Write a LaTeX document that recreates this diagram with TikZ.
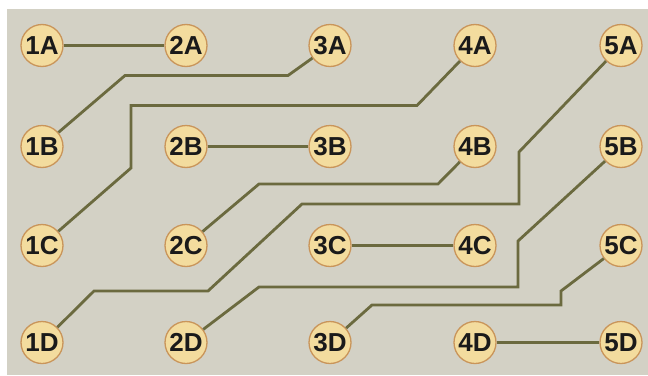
\documentclass[tikz,border=0pt]{standalone}
\usepackage{fontspec}
\setmainfont{Liberation Sans}
\definecolor{bgc}{HTML}{D3D1C5}
\definecolor{nodefill}{HTML}{F3DC9E}
\definecolor{nodeedge}{HTML}{C9955A}
\definecolor{wire}{HTML}{6B6A3F}
\definecolor{txt}{HTML}{1A1A1A}
\begin{document}
\begin{tikzpicture}[x=1pt,y=-1pt,
  pin/.style={circle,draw=nodeedge,fill=nodefill,line width=1.3pt,minimum size=42pt,inner sep=0pt,
    text=txt,font=\fontsize{26}{26}\selectfont\bfseries},
  wirepath/.style={draw=wire,line width=2.8pt}]
\useasboundingbox (0,0) rectangle (648,375);
\fill[white] (0,0) rectangle (648,375);
\fill[bgc] (7,9) rectangle (648,375);
% nodes
\foreach \c/\x in {1/42,2/186,3/330,4/475,5/621}{
  \foreach \r/\y in {A/45.5,B/146.5,C/245.5,D/342.5}{
    \node[pin] (n\c\r) at (\x,\y) {\c\r};
  }
}
% connectors
\draw[wirepath] (n1A) -- (n2A);
\draw[wirepath] (n2B) -- (n3B);
\draw[wirepath] (n3C) -- (n4C);
\draw[wirepath] (n4D) -- (n5D);
\draw[wirepath] (n1B) -- (125,75.5) -- (288,75.5) -- (n3A);
\draw[wirepath] (n1C) -- (131,168) -- (131,105.5) -- (417,105.5) -- (n4A);
\draw[wirepath] (n2C) -- (259,184) -- (438,184) -- (n4B);
\draw[wirepath] (n1D) -- (94,291) -- (208,291) -- (302,204) -- (519,204) -- (519,152) -- (n5A);
\draw[wirepath] (n2D) -- (259,287) -- (518,287) -- (518,241) -- (n5B);
\draw[wirepath] (n3D) -- (372,305) -- (561,305) -- (561,291) -- (n5C);
\end{tikzpicture}
\end{document}
